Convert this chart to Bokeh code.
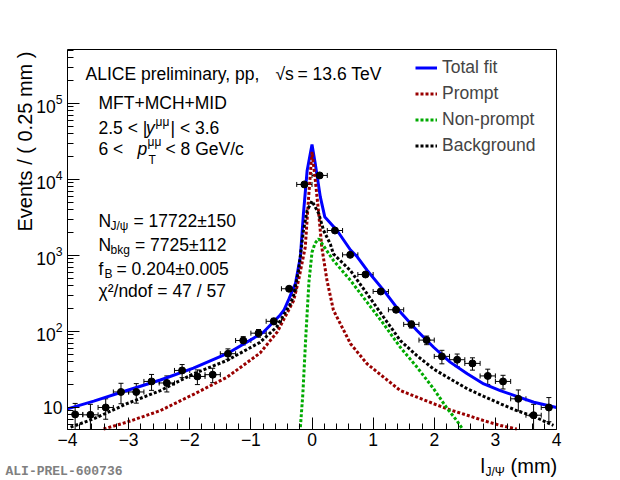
import math
from bokeh.plotting import figure
from bokeh.models import (Range1d, FixedTicker, LinearAxis, LogAxis, ColumnDataSource,
                          Whisker, TeeHead, Label, Legend, LegendItem)
from bokeh.embed import file_html
from bokeh.resources import INLINE

# ---------------- data ----------------
bin_centers = [-3.875, -3.625, -3.375, -3.125, -2.875, -2.625, -2.375, -2.125,
               -1.875, -1.625, -1.375, -1.125, -0.875, -0.625, -0.375, -0.125,
               0.125, 0.375, 0.625, 0.875, 1.125, 1.375, 1.625, 1.875,
               2.125, 2.375, 2.625, 2.875, 3.125, 3.375, 3.625, 3.875]
counts = [8.1, 8.0, 10.0, 16, 16, 22, 21, 30.7,
          25.6, 27, 51, 76, 95, 136, 365, 8600,
          11300, 2130, 1020, 562, 336, 193, 124, 77,
          47, 42.5, 38, 26, 22, 13, 7.9, 10.0]
count_err = [3.2, 3.0, 3.0, 4.8, 4.6, 5.2, 5.0, 6.0,
             5.6, 5.8, 8.0, 9.5, 11, 13, 21, 95,
             110, 48, 33, 25, 19, 14, 13, 10,
             9.5, 8.0, 7.0, 5.9, 4.5, 4.0, 3.1, 3.5]
bin_half_width = 0.125

total_x = [-4.0, -3.57, -3.03, -2.48, -1.94, -1.39, -0.80, -0.52, -0.46, -0.375, -0.27,
           -0.19, -0.14, -0.08, 0.0, 0.054, 0.136, 0.21, 0.41, 0.63, 0.74, 0.90, 1.17,
           1.444, 1.717, 1.99, 2.26, 2.54, 2.81, 3.08, 3.35, 3.63, 4.0]
total_y = [9.6, 12.1, 16.7, 23, 33, 51, 97, 165, 190, 270, 430,
           960, 3560, 13000, 28800, 16000, 5900, 3200, 2130, 1180, 960, 640, 350,
           180, 103, 62, 39.5, 27.7, 20.4, 16.7, 14, 11.7, 10]

prompt_x = [-3.41, -3.03, -2.48, -1.93, -1.39, -0.85, -0.57, -0.30, -0.22, -0.11, -0.055,
            0.0, 0.054, 0.11, 0.16, 0.245, 0.35, 0.63, 0.90, 1.444, 1.717, 1.99, 2.26,
            2.54, 2.81, 3.08, 3.35]
prompt_y = [5.2, 6.4, 9.1, 15, 25, 52, 98, 256, 470, 1290, 5900,
            23000, 9800, 3560, 1290, 470, 191, 69, 37.6, 16.7, 13.7, 11.2, 9.3,
            7.9, 6.7, 5.8, 5.2]

nonprompt_x = [-0.19, -0.15, -0.10, -0.05, 0.0, 0.05, 0.11, 0.35, 0.63, 0.90, 1.17,
               1.444, 1.717, 1.99, 2.20, 2.37, 2.45]
nonprompt_y = [5.5, 15, 90, 450, 1100, 1450, 1660, 860, 470, 243, 126,
               62, 34, 17.6, 10, 6.7, 5.4]

bkg_x = [-3.95, -3.57, -3.03, -2.48, -1.94, -1.39, -0.85, -0.58, -0.355, -0.30, -0.22,
         -0.14, -0.08, 0.0, 0.11, 0.19, 0.30, 0.35, 0.63, 0.90, 1.17, 1.444, 1.717,
         1.99, 2.26, 2.54, 2.81, 3.08, 3.35, 3.63, 3.95]
bkg_y = [5.5, 7.1, 11.2, 16.7, 27.7, 41.6, 72, 114, 230, 300, 630,
         2130, 3900, 5200, 3560, 2130, 1410, 1050, 630, 314, 155, 76, 48,
         32, 23.8, 17.6, 14, 11.2, 9.1, 7.6, 5.8]

x_ticks = [-4, -3, -2, -1, 0, 1, 2, 3, 4]
x_tick_labels = ["\u22124", "\u22123", "\u22122", "\u22121", "0", "1", "2", "3", "4"]
y_ticks = [10, 100, 1000, 10000, 100000]

legend_labels = ["Total fit", "Prompt", "Non-prompt", "Background"]

# ---------------- layout constants ----------------
W, H = 620, 480
PX_L, PX_R, PX_T, PX_B = 67, 556, 49, 429          # visible plot box in canvas px
X_MIN, X_MAX = -4.0, 4.0
Y_MIN, Y_MAX = 5.13, 5.13e5
sx = (PX_R - PX_L) / (X_MAX - X_MIN)
x_start = X_MIN - PX_L / sx
x_end = X_MAX + (W - PX_R) / sx
dec_per_px = (math.log10(Y_MAX) - math.log10(Y_MIN)) / (PX_B - PX_T)
y_start = 10 ** (math.log10(Y_MIN) - (H - PX_B) * dec_per_px)
y_end = 10 ** (math.log10(Y_MAX) + PX_T * dec_per_px)

FONT = "Liberation Sans"
FS = "17.5px"

p = figure(width=W, height=H, output_backend="svg", toolbar_location=None,
           x_range=Range1d(x_start, x_end), y_range=Range1d(y_start, y_end),
           y_axis_type="log", x_axis_location=None, y_axis_location=None,
           min_border=0, min_border_left=0, min_border_right=0,
           min_border_top=0, min_border_bottom=0)
p.title.visible = False
p.grid.visible = False
p.outline_line_color = None
p.background_fill_color = "white"
p.border_fill_color = "white"

# axes drawn at the box edges
x_minor = [round(X_MIN + 0.2 * i, 6) for i in range(41)]
y_minor = [m * 10 ** k for k in range(0, 7) for m in range(2, 10) if Y_MIN <= m * 10 ** k <= Y_MAX]

xaxis = LinearAxis(fixed_location=Y_MIN, bounds=(X_MIN, X_MAX),
                   ticker=FixedTicker(ticks=x_ticks, minor_ticks=x_minor),
                   major_label_overrides={t: s for t, s in zip(x_ticks, x_tick_labels)},
                   major_label_standoff=3)
yaxis = LogAxis(fixed_location=X_MIN, bounds=(Y_MIN, Y_MAX),
                ticker=FixedTicker(ticks=y_ticks, minor_ticks=y_minor),
                major_label_overrides={10: "10"}, major_label_standoff=5)
for ax in (xaxis, yaxis):
    ax.major_tick_in = 12
    ax.major_tick_out = 0
    ax.minor_tick_in = 6
    ax.minor_tick_out = 0
    ax.axis_line_color = "black"
    ax.major_tick_line_color = "black"
    ax.minor_tick_line_color = "black"
    ax.major_label_text_font = FONT
    ax.major_label_text_font_size = FS
    ax.major_label_text_color = "black"
p.add_layout(xaxis, "below")
p.add_layout(yaxis, "left")
top_edge = LinearAxis(fixed_location=Y_MAX, bounds=(X_MIN, X_MAX),
                      ticker=FixedTicker(ticks=[], minor_ticks=[]), axis_line_color="black")
right_edge = LogAxis(fixed_location=X_MAX, bounds=(Y_MIN, Y_MAX),
                     ticker=FixedTicker(ticks=[], minor_ticks=[]), axis_line_color="black")
p.add_layout(top_edge, "above")
p.add_layout(right_edge, "right")

# curves
dash = "3 2"
r_tot = p.line(total_x, total_y, line_color="#0000ff", line_width=3)
r_pr = p.line(prompt_x, prompt_y, line_color="#990000", line_width=3, line_dash=dash)
r_np = p.line(nonprompt_x, nonprompt_y, line_color="#00aa00", line_width=3, line_dash=dash)
r_bk = p.line(bkg_x, bkg_y, line_color="black", line_width=3, line_dash=dash)

# data points with errors
src = ColumnDataSource(dict(
    x=bin_centers, y=counts,
    lo=[max(c - e, Y_MIN) for c, e in zip(counts, count_err)],
    hi=[c + e for c, e in zip(counts, count_err)],
    xl=[x - bin_half_width for x in bin_centers],
    xh=[x + bin_half_width for x in bin_centers],
))
p.add_layout(Whisker(source=src, base="x", lower="lo", upper="hi", dimension="height",
                     line_color="black", line_width=1,
                     lower_head=TeeHead(size=5, line_color="black", line_width=1),
                     upper_head=TeeHead(size=5, line_color="black", line_width=1)))
p.add_layout(Whisker(source=src, base="y", lower="xl", upper="xh", dimension="width",
                     line_color="black", line_width=1,
                     lower_head=TeeHead(size=5, line_color="black", line_width=1),
                     upper_head=TeeHead(size=5, line_color="black", line_width=1)))
p.scatter("x", "y", source=src, size=7, marker="circle", fill_color="black", line_color="black")

# legend (location = left/bottom edge in canvas px)
legend = Legend(items=[LegendItem(label=l, renderers=[r]) for l, r in
                       zip(legend_labels, [r_tot, r_pr, r_np, r_bk])],
                location=(415, 323), orientation="vertical",
                glyph_width=22, glyph_height=23, label_height=23, spacing=3,
                label_standoff=5, padding=0, margin=0,
                border_line_alpha=0, background_fill_alpha=0,
                label_text_font=FONT, label_text_font_size=FS)
p.add_layout(legend)


def txt(s, x, y, size=FS, style="normal", align="left", angle=0.0, color="black", font=FONT):
    """x, y: canvas px, y measured upward from the bottom edge."""
    p.add_layout(Label(x=x, y=y, x_units="screen", y_units="screen", text=s,
                       text_font=font, text_font_size=size, text_font_style=style,
                       text_align=align, text_baseline="alphabetic", angle=angle,
                       text_color=color))


SUB = "12px"
txt("ALICE preliminary, pp,", 85, 406.7)
txt("\u221as", 275, 406.7)
txt("= 13.6 TeV", 297, 406.7)
txt("MFT+MCH+MID", 98, 377.7)
txt("2.5 < |", 98, 353)
txt("y", 145.5, 353, style="italic")
txt("\u03bc\u03bc", 155, 359, size=SUB)
txt("| < 3.6", 170, 353)
txt("6 <", 98, 331.7)
txt("p", 137, 331.7, style="italic")
txt("\u03bc\u03bc", 147, 339, size=SUB)
txt("T", 148, 321, size=SUB)
txt("< 8 GeV/c", 165, 331.7)
txt("N", 98, 260)
txt("J/\u03c8", 110, 254.5, size=SUB)
txt("= 17722\u00b1150", 133, 260)
txt("N", 98, 236)
txt("bkg", 110, 231, size=SUB)
txt("= 7725\u00b1112", 134.5, 236)
txt("f", 98, 211.7)
txt("B", 104, 207, size=SUB)
txt("= 0.204\u00b10.005", 116, 211.7)
txt("\u03c7\u00b2/ndof = 47 / 57", 98, 189.3)

# axis titles and the figure id
txt("Events / ( 0.25 mm )", 24.5, 429, size="20px", align="right", angle=math.pi / 2)
txt("l", 480, 15, size="20px")
txt("J/\u03a8", 485, 8.5, size="12px")
txt("(mm)", 556.7, 15, size="20px", align="right")
txt("ALI-PREL-600736", 5, 9, size="13px", style="bold", color="#808080", font="Liberation Mono")

open("out.html", "w").write(file_html(p, INLINE))
